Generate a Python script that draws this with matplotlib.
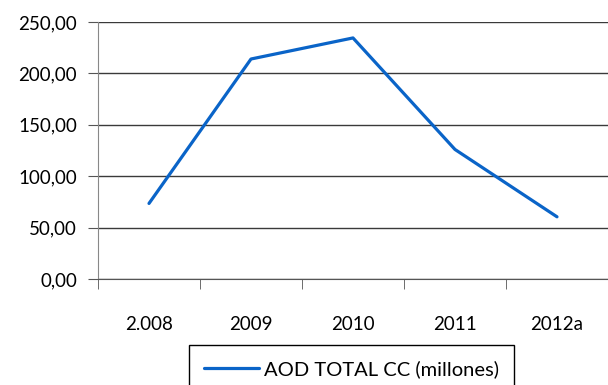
import matplotlib
matplotlib.use('Agg')
import matplotlib.pyplot as plt
import numpy as np

years = ['2.008', '2009', '2010', '2011', '2012a']
aod_total = [73.5, 214.0, 234.5, 126.0, 60.5]
yticks = [0, 50, 100, 150, 200, 250]

plt.rcParams['font.family'] = ['Lato', 'DejaVu Sans']

fig = plt.figure(figsize=(6.08, 3.85), dpi=100)
ax = fig.add_axes([98/608., 1-279/385., 1-98/608., 257/385.])

x = np.arange(len(years))
ax.plot(x, aod_total, color='#0a64c8', linewidth=2.3, solid_capstyle='round',
        label='AOD TOTAL CC (millones)')

ax.set_xlim(-0.5, len(years)-0.5)
ax.set_ylim(0, 250)
ax.set_yticks(yticks)
ax.set_yticklabels(['%d,00' % v for v in yticks], fontsize=13.5)
ax.yaxis.grid(True, color='#3a3a3a', linewidth=1.0)
ax.set_axisbelow(True)

# category labels centred, tick marks on the boundaries
ax.set_xticks(x)
ax.set_xticklabels(years, fontsize=13.5)
ax.tick_params(axis='x', which='major', length=0, pad=27)
ax.set_xticks(np.arange(-0.5, len(years)), minor=True)
ax.tick_params(axis='x', which='minor', length=7, color='#555555')
ax.tick_params(axis='y', length=7, color='#555555', pad=8)

for side in ['top', 'right']:
    ax.spines[side].set_visible(False)
ax.spines['left'].set_color('#888888')
ax.spines['bottom'].set_color('#555555')

leg = fig.legend(loc='upper center', bbox_to_anchor=((183+520)/2/608., 1-345/385.),
                 fontsize=14.5, frameon=True, fancybox=False, framealpha=1,
                 edgecolor='black', handlelength=2.7, handletextpad=0.25,
                 borderpad=0.75, borderaxespad=0)
leg.get_frame().set_linewidth(1.0)

plt.savefig('out.png', dpi=100)
plt.close('all')
